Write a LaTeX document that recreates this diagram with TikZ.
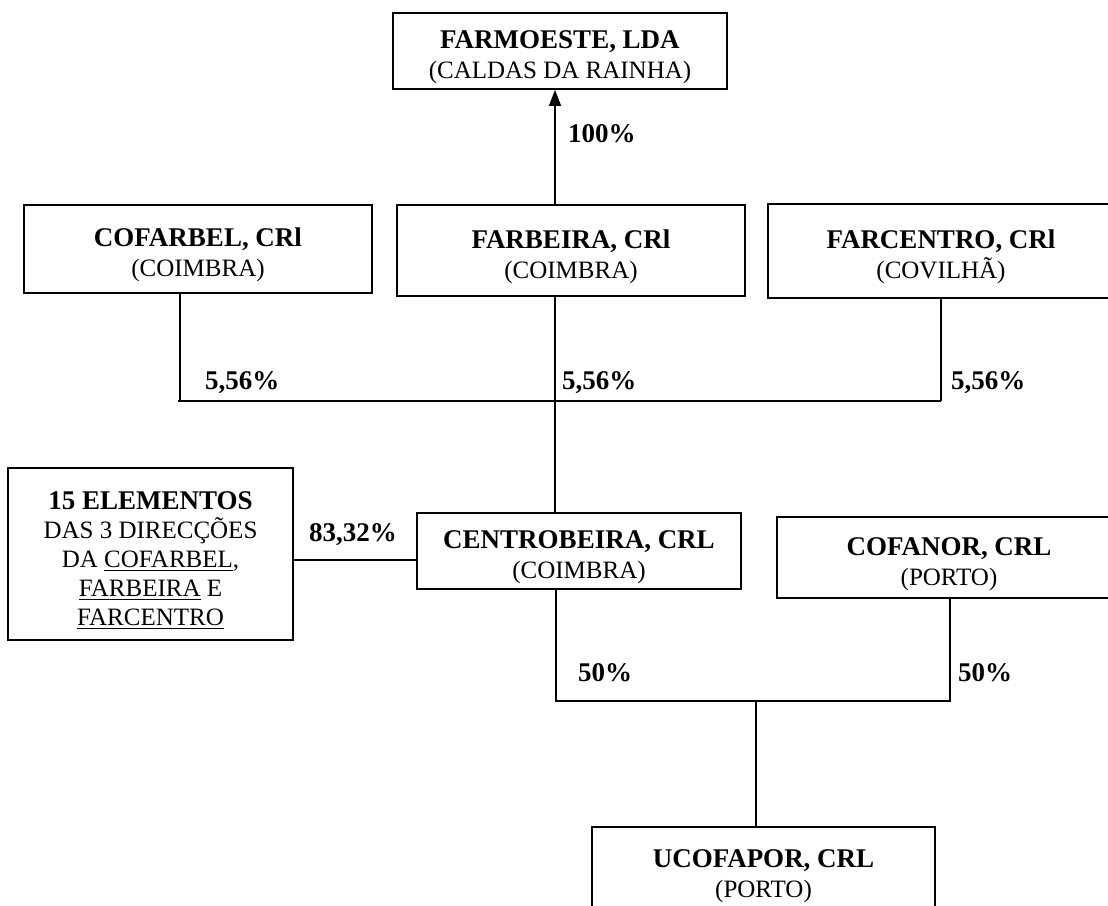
\documentclass[tikz,border=0pt]{standalone}
\usepackage{fontspec}
\setmainfont{Liberation Serif}
\usetikzlibrary{arrows.meta}
\newcommand{\bhead}[1]{{\fontsize{27}{30}\selectfont\bfseries\rule{0pt}{31pt}#1}}
\newcommand{\myul}[1]{{\setbox0\hbox{#1}\rlap{\rule[-3.5pt]{\wd0}{1.4pt}}\box0}}
\tikzset{
  box/.style={draw, line width=1.8pt, inner sep=0pt, align=center,
    font=\fontsize{25}{30}\selectfont},
  conn/.style={line width=1.3pt},
  pct/.style={anchor=base west, inner sep=0pt, font=\fontsize{27}{30}\selectfont\bfseries},
}
\begin{document}
\begin{tikzpicture}[x=1pt,y=-1pt]
\clip (0,0) rectangle (1108,905);
\fill[white] (0,0) rectangle (1108,905);

% boxes
\node[box, minimum width=334pt, minimum height=76pt] (farmoeste) at (560,51)
  {\bhead{FARMOESTE, LDA}\\(CALDAS DA RAINHA)};
\node[box, minimum width=348pt, minimum height=88pt] (cofarbel) at (198,249)
  {\bhead{COFARBEL, CRl}\\(COIMBRA)};
\node[box, minimum width=348pt, minimum height=91pt] (farbeira) at (571,250.5)
  {\bhead{FARBEIRA, CRl}\\(COIMBRA)};
\node[box, minimum width=346pt, minimum height=94pt] (farcentro) at (941,251)
  {\bhead{FARCENTRO, CRl}\\(COVILHÃ)};
\node[box, minimum width=285pt, minimum height=172pt,
      font=\fontsize{25}{29}\selectfont] (elem) at (150.5,554)
  {\bhead{15 ELEMENTOS}\\DAS 3 DIRECÇÕES\\DA \myul{COFARBEL},\\\myul{FARBEIRA} E\\\myul{FARCENTRO}};
\node[box, minimum width=324pt, minimum height=76pt] (centro) at (579,551)
  {\bhead{CENTROBEIRA, CRL}\\(COIMBRA)};
\node[box, minimum width=344pt, minimum height=81pt] (cofanor) at (949,557.5)
  {\bhead{COFANOR, CRL}\\(PORTO)};
\node[box, minimum width=343pt, minimum height=86pt] (ucofapor) at (763.5,870)
  {\bhead{UCOFAPOR, CRL}\\(PORTO)};

% connector coordinates
\coordinate (xa) at (555,0);
\coordinate (xc) at (180,0);
\coordinate (xf) at (941,0);
\coordinate (busL) at (178,401);
\coordinate (busM) at (555,401);
\coordinate (busR) at (941,401);
\coordinate (h83) at (0,560);
\coordinate (bus2L) at (556,701);
\coordinate (bus2M) at (756,701);
\coordinate (bus2R) at (950,701);

% connectors
\draw[conn, -{Triangle[length=16pt,width=12pt]}] (farbeira.north -| xa) -- (farmoeste.south -| xa);
\draw[conn] (cofarbel.south -| xc) -- (busL -| xc);
\draw[conn] (busL) -- (busR);
\draw[conn] (farcentro.south -| xf) -- (busR);
\draw[conn] (farbeira.south -| busM) -- (centro.north -| busM);
\draw[conn] (elem.east |- h83) -- (centro.west |- h83);
\draw[conn] (centro.south -| bus2L) -- (bus2L) -- (bus2R) -- (cofanor.south -| bus2R);
\draw[conn] (bus2M) -- (ucofapor.north -| bus2M);

% labels
\node[pct] (p100) at (568,142) {100\%};
\node[pct] (p1) at (205,389) {5,56\%};
\node[pct] (p2) at (562,389) {5,56\%};
\node[pct] (p3) at (951,389) {5,56\%};
\node[pct] (p83) at (309,541) {83,32\%};
\node[pct] (p50a) at (578,681) {50\%};
\node[pct] (p50b) at (958,681) {50\%};
\end{tikzpicture}
\end{document}
